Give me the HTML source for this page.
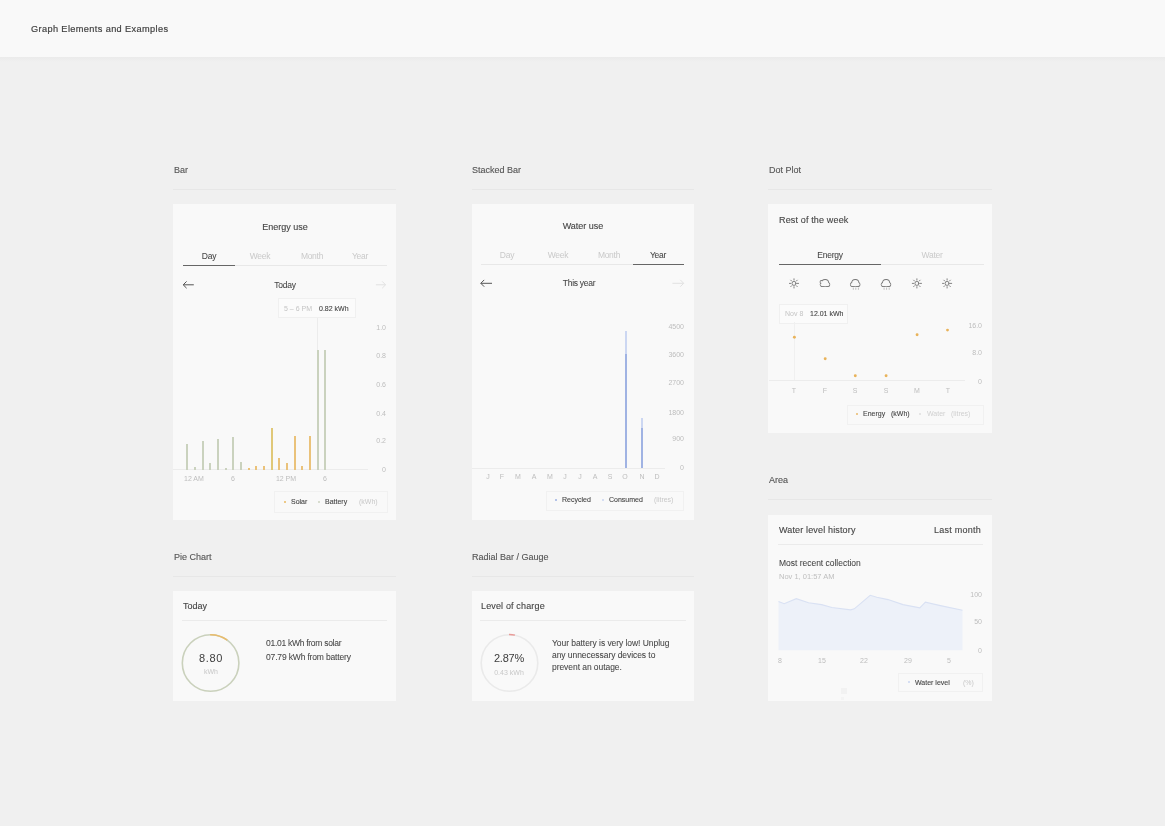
<!DOCTYPE html>
<html><head><meta charset="utf-8"><style>
html,body{margin:0;padding:0;}
body{width:1165px;height:826px;background:#f0f0f0;position:relative;overflow:hidden;font-family:"Liberation Sans", Arial, sans-serif;}
.t{position:absolute;white-space:nowrap;will-change:transform;}
.d{-webkit-text-stroke:0.12px currentColor;}
.d8{-webkit-text-stroke:0.06px currentColor;}
.d7{-webkit-text-stroke:0.1px currentColor;}
.r{position:absolute;}
svg{position:absolute;overflow:visible;}
</style></head><body>
<div class="r" style="left:0px;top:0px;width:1165px;height:56.5px;background:#f9f9f9;"></div>
<div class="r" style="left:0px;top:56.5px;width:1165px;height:5px;background:linear-gradient(#ebebeb,#f0f0f0);"></div>
<div class="t d" style="left:30.60px;top:24.61px;font-size:9.2px;line-height:9.2px;color:#404040;letter-spacing:0.38px;-webkit-text-stroke:0.18px #404040">Graph Elements and Examples</div>
<div class="t d" style="left:173.50px;top:166.28px;font-size:9px;line-height:9px;color:#555;">Bar</div>
<div class="r" style="left:173px;top:189px;width:223px;height:1px;background:#e7e7e7;"></div>
<div class="r" style="left:173px;top:204px;width:223px;height:316px;background:#f9f9f9;"></div>
<div class="t d" style="left:471.80px;top:166.28px;font-size:9px;line-height:9px;color:#555;">Stacked Bar</div>
<div class="r" style="left:471.7px;top:189px;width:222px;height:1px;background:#e7e7e7;"></div>
<div class="r" style="left:471.7px;top:204px;width:222px;height:315.5px;background:#f9f9f9;"></div>
<div class="t d" style="left:769.20px;top:166.28px;font-size:9px;line-height:9px;color:#555;">Dot Plot</div>
<div class="r" style="left:768.3px;top:189px;width:223.7px;height:1px;background:#e7e7e7;"></div>
<div class="r" style="left:768.3px;top:204px;width:223.7px;height:229px;background:#f9f9f9;"></div>
<div class="t d" style="left:769.20px;top:475.68px;font-size:9px;line-height:9px;color:#555;">Area</div>
<div class="r" style="left:768.3px;top:498.5px;width:223.7px;height:1px;background:#e7e7e7;"></div>
<div class="r" style="left:768.3px;top:514.8px;width:223.7px;height:186.7px;background:#f9f9f9;"></div>
<div class="t d" style="left:173.50px;top:553.38px;font-size:9px;line-height:9px;color:#555;">Pie Chart</div>
<div class="r" style="left:173px;top:576px;width:223px;height:1px;background:#e7e7e7;"></div>
<div class="r" style="left:173px;top:591.2px;width:223px;height:110px;background:#f9f9f9;"></div>
<div class="t d" style="left:471.80px;top:553.38px;font-size:9px;line-height:9px;color:#555;">Radial Bar / Gauge</div>
<div class="r" style="left:471.5px;top:576px;width:222.2px;height:1px;background:#e7e7e7;"></div>
<div class="r" style="left:471.5px;top:591.2px;width:222.2px;height:110px;background:#f9f9f9;"></div>
<div class="t d" style="left:134.70px;width:300px;text-align:center;top:223.18px;font-size:9px;line-height:9px;color:#454545;">Energy use</div>
<div class="t d8" style="left:58.70px;width:300px;text-align:center;top:252.10px;font-size:8.5px;line-height:8.5px;color:#454545;;letter-spacing:-0.28px">Day</div>
<div class="t" style="left:110.20px;width:300px;text-align:center;top:252.10px;font-size:8.5px;line-height:8.5px;color:#c9c9c9;;letter-spacing:-0.28px">Week</div>
<div class="t" style="left:161.60px;width:300px;text-align:center;top:252.10px;font-size:8.5px;line-height:8.5px;color:#c9c9c9;;letter-spacing:-0.28px">Month</div>
<div class="t" style="left:210.20px;width:300px;text-align:center;top:252.10px;font-size:8.5px;line-height:8.5px;color:#c9c9c9;;letter-spacing:-0.28px">Year</div>
<div class="r" style="left:183px;top:265px;width:203.5px;height:1px;background:#e8e8e8;"></div>
<div class="r" style="left:183px;top:264.75px;width:51.5px;height:1.5px;background:#666;"></div>
<svg style="left:175px;top:275px" width="220" height="20" viewBox="175 275 220 20"><path d="M186.6 281.4 L183.2 284.8 L186.6 288.2 M183.2 284.8 H193.8" fill="none" stroke="#555" stroke-width="1"/><path d="M382.2 281.4 L385.6 284.8 L382.2 288.2 M385.6 284.8 H375.9" fill="none" stroke="#e2e2e2" stroke-width="1"/></svg>
<div class="t d8" style="left:135.30px;width:300px;text-align:center;top:280.70px;font-size:8.5px;line-height:8.5px;color:#454545;;letter-spacing:-0.28px">Today</div>
<div class="r" style="left:277.9px;top:298.4px;width:76.5px;height:18px;border:1px solid #f0f0f0;background:#fbfbfb"></div>
<div class="t" style="left:284.20px;top:305.37px;font-size:7px;line-height:7px;color:#c4c4c4;">5 &ndash; 6 PM</div>
<div class="t d7" style="left:318.90px;top:305.37px;font-size:7px;line-height:7px;color:#454545;">0.82 kWh</div>
<div class="r" style="left:317px;top:317.5px;width:1px;height:33px;background:#ececec;"></div>
<div class="t" style="left:86.20px;width:300px;text-align:right;top:323.67px;font-size:7px;line-height:7px;color:#bdbdbd;">1.0</div>
<div class="t" style="left:86.20px;width:300px;text-align:right;top:352.37px;font-size:7px;line-height:7px;color:#bdbdbd;">0.8</div>
<div class="t" style="left:86.20px;width:300px;text-align:right;top:381.47px;font-size:7px;line-height:7px;color:#bdbdbd;">0.6</div>
<div class="t" style="left:86.20px;width:300px;text-align:right;top:410.47px;font-size:7px;line-height:7px;color:#bdbdbd;">0.4</div>
<div class="t" style="left:86.20px;width:300px;text-align:right;top:437.07px;font-size:7px;line-height:7px;color:#bdbdbd;">0.2</div>
<div class="t" style="left:86.20px;width:300px;text-align:right;top:465.77px;font-size:7px;line-height:7px;color:#bdbdbd;">0</div>
<div class="r" style="left:173px;top:469.2px;width:194.6px;height:0.8px;background:#ececec;"></div>
<div class="r" style="left:186px;top:444px;width:2px;height:25.6px;background:#cad2be;"></div>
<div class="r" style="left:194px;top:467.3px;width:2px;height:2.3px;background:#cad2be;"></div>
<div class="r" style="left:202px;top:441.3px;width:2px;height:28.3px;background:#cad2be;"></div>
<div class="r" style="left:209px;top:463.3px;width:2px;height:6.3px;background:#cad2be;"></div>
<div class="r" style="left:217px;top:439px;width:2px;height:30.6px;background:#cad2be;"></div>
<div class="r" style="left:225px;top:468px;width:2px;height:1.6px;background:#cad2be;"></div>
<div class="r" style="left:232px;top:437px;width:2px;height:32.6px;background:#cad2be;"></div>
<div class="r" style="left:240px;top:462px;width:2px;height:7.6px;background:#cad2be;"></div>
<div class="r" style="left:248px;top:467.5px;width:2px;height:2.1px;background:#eac27a;"></div>
<div class="r" style="left:255px;top:466px;width:2px;height:3.6px;background:#eac27a;"></div>
<div class="r" style="left:263px;top:466px;width:2px;height:3.6px;background:#eac27a;"></div>
<div class="r" style="left:271px;top:427.7px;width:2px;height:41.9px;background:#e0c878;"></div>
<div class="r" style="left:278px;top:458.3px;width:2px;height:11.3px;background:#eac27a;"></div>
<div class="r" style="left:286px;top:463.3px;width:2px;height:6.3px;background:#eac27a;"></div>
<div class="r" style="left:294px;top:435.5px;width:2px;height:34.1px;background:#eac27a;"></div>
<div class="r" style="left:301px;top:466px;width:2px;height:3.6px;background:#eac27a;"></div>
<div class="r" style="left:309px;top:436.2px;width:2px;height:33.4px;background:#eac27a;"></div>
<div class="r" style="left:317px;top:350.2px;width:2px;height:119.4px;background:#cad2be;"></div>
<div class="r" style="left:324px;top:350.2px;width:2px;height:119.4px;background:#cad2be;"></div>
<div class="t" style="left:183.80px;top:475.17px;font-size:7px;line-height:7px;color:#bdbdbd;">12 AM</div>
<div class="t" style="left:83.20px;width:300px;text-align:center;top:475.17px;font-size:7px;line-height:7px;color:#bdbdbd;">6</div>
<div class="t" style="left:136.00px;width:300px;text-align:center;top:475.17px;font-size:7px;line-height:7px;color:#bdbdbd;">12 PM</div>
<div class="t" style="left:175.20px;width:300px;text-align:center;top:475.17px;font-size:7px;line-height:7px;color:#bdbdbd;">6</div>
<div class="r" style="left:274px;top:490.5px;width:111.5px;height:20.5px;border:1px solid #f1f1f1"></div>
<div class="r" style="left:284.2px;top:500.7px;width:2px;height:2px;border-radius:1px;background:#e9b860"></div>
<div class="r" style="left:317.9px;top:500.7px;width:2px;height:2px;border-radius:1px;background:#cdd3c0"></div>
<div class="t d7" style="left:291.40px;top:498.07px;font-size:7px;line-height:7px;color:#454545;">Solar</div>
<div class="t d7" style="left:325.10px;top:498.07px;font-size:7px;line-height:7px;color:#454545;">Battery</div>
<div class="t" style="left:358.80px;top:498.07px;font-size:7px;line-height:7px;color:#c8c8c8;">(kWh)</div>
<div class="t d" style="left:432.50px;width:300px;text-align:center;top:222.48px;font-size:9px;line-height:9px;color:#454545;">Water use</div>
<div class="t" style="left:356.50px;width:300px;text-align:center;top:250.70px;font-size:8.5px;line-height:8.5px;color:#c9c9c9;;letter-spacing:-0.28px">Day</div>
<div class="t" style="left:407.80px;width:300px;text-align:center;top:250.70px;font-size:8.5px;line-height:8.5px;color:#c9c9c9;;letter-spacing:-0.28px">Week</div>
<div class="t" style="left:459.30px;width:300px;text-align:center;top:250.70px;font-size:8.5px;line-height:8.5px;color:#c9c9c9;;letter-spacing:-0.28px">Month</div>
<div class="t d8" style="left:507.90px;width:300px;text-align:center;top:250.70px;font-size:8.5px;line-height:8.5px;color:#454545;;letter-spacing:-0.28px">Year</div>
<div class="r" style="left:480.5px;top:264px;width:203.5px;height:1px;background:#e8e8e8;"></div>
<div class="r" style="left:632.7px;top:263.75px;width:51.3px;height:1.5px;background:#666;"></div>
<svg style="left:472px;top:274px" width="222" height="20" viewBox="472 274 222 20"><path d="M484.2 279.9 L480.8 283.3 L484.2 286.7 M480.8 283.3 H492" fill="none" stroke="#555" stroke-width="1"/><path d="M680.3 279.9 L683.7 283.3 L680.3 286.7 M683.7 283.3 H672.4" fill="none" stroke="#e2e2e2" stroke-width="1"/></svg>
<div class="t d8" style="left:428.70px;width:300px;text-align:center;top:278.90px;font-size:8.5px;line-height:8.5px;color:#454545;;letter-spacing:-0.28px">This year</div>
<div class="t" style="left:384.00px;width:300px;text-align:right;top:322.57px;font-size:7px;line-height:7px;color:#bdbdbd;">4500</div>
<div class="t" style="left:384.00px;width:300px;text-align:right;top:351.17px;font-size:7px;line-height:7px;color:#bdbdbd;">3600</div>
<div class="t" style="left:384.00px;width:300px;text-align:right;top:379.47px;font-size:7px;line-height:7px;color:#bdbdbd;">2700</div>
<div class="t" style="left:384.00px;width:300px;text-align:right;top:409.07px;font-size:7px;line-height:7px;color:#bdbdbd;">1800</div>
<div class="t" style="left:384.00px;width:300px;text-align:right;top:435.47px;font-size:7px;line-height:7px;color:#bdbdbd;">900</div>
<div class="t" style="left:384.00px;width:300px;text-align:right;top:464.37px;font-size:7px;line-height:7px;color:#bdbdbd;">0</div>
<div class="r" style="left:472px;top:467.6px;width:192.7px;height:0.8px;background:#ececec;"></div>
<div class="r" style="left:625px;top:331px;width:1.6px;height:23px;background:#ccd7f2;"></div>
<div class="r" style="left:625px;top:354px;width:1.6px;height:114px;background:#a0b3e3;"></div>
<div class="r" style="left:641px;top:417.9px;width:1.6px;height:10px;background:#ccd7f2;"></div>
<div class="r" style="left:641px;top:427.9px;width:1.6px;height:40px;background:#a0b3e3;"></div>
<div class="t" style="left:338.20px;width:300px;text-align:center;top:473.07px;font-size:7px;line-height:7px;color:#bdbdbd;">J</div>
<div class="t" style="left:352.30px;width:300px;text-align:center;top:473.07px;font-size:7px;line-height:7px;color:#bdbdbd;">F</div>
<div class="t" style="left:367.90px;width:300px;text-align:center;top:473.07px;font-size:7px;line-height:7px;color:#bdbdbd;">M</div>
<div class="t" style="left:384.00px;width:300px;text-align:center;top:473.07px;font-size:7px;line-height:7px;color:#bdbdbd;">A</div>
<div class="t" style="left:399.70px;width:300px;text-align:center;top:473.07px;font-size:7px;line-height:7px;color:#bdbdbd;">M</div>
<div class="t" style="left:414.90px;width:300px;text-align:center;top:473.07px;font-size:7px;line-height:7px;color:#bdbdbd;">J</div>
<div class="t" style="left:429.60px;width:300px;text-align:center;top:473.07px;font-size:7px;line-height:7px;color:#bdbdbd;">J</div>
<div class="t" style="left:444.50px;width:300px;text-align:center;top:473.07px;font-size:7px;line-height:7px;color:#bdbdbd;">A</div>
<div class="t" style="left:459.80px;width:300px;text-align:center;top:473.07px;font-size:7px;line-height:7px;color:#bdbdbd;">S</div>
<div class="t" style="left:475.40px;width:300px;text-align:center;top:473.07px;font-size:7px;line-height:7px;color:#bdbdbd;">O</div>
<div class="t" style="left:491.50px;width:300px;text-align:center;top:473.07px;font-size:7px;line-height:7px;color:#bdbdbd;">N</div>
<div class="t" style="left:506.60px;width:300px;text-align:center;top:473.07px;font-size:7px;line-height:7px;color:#bdbdbd;">D</div>
<div class="r" style="left:545.7px;top:490.8px;width:136.7px;height:18.7px;border:1px solid #f1f1f1"></div>
<div class="r" style="left:554.8px;top:498.9px;width:2px;height:2px;border-radius:1px;background:#9cb0e2"></div>
<div class="r" style="left:602.2px;top:498.9px;width:2px;height:2px;border-radius:1px;background:#c9d5f1"></div>
<div class="t d7" style="left:562.20px;top:496.07px;font-size:7px;line-height:7px;color:#454545;">Recycled</div>
<div class="t d7" style="left:608.80px;top:496.07px;font-size:7px;line-height:7px;color:#454545;">Consumed</div>
<div class="t" style="left:654.00px;top:496.07px;font-size:7px;line-height:7px;color:#c8c8c8;">(litres)</div>
<div class="t d" style="left:778.90px;top:215.68px;font-size:9px;line-height:9px;color:#454545;letter-spacing:0.15px">Rest of the week</div>
<div class="t d8" style="left:679.50px;width:300px;text-align:center;top:251.10px;font-size:8.5px;line-height:8.5px;color:#454545;;letter-spacing:-0.28px">Energy</div>
<div class="t" style="left:781.80px;width:300px;text-align:center;top:251.10px;font-size:8.5px;line-height:8.5px;color:#c9c9c9;;letter-spacing:-0.28px">Water</div>
<div class="r" style="left:778.5px;top:263.8px;width:205px;height:1px;background:#e8e8e8;"></div>
<div class="r" style="left:778.5px;top:263.5px;width:102.4px;height:1.5px;background:#666;"></div>
<svg style="left:780px;top:274px" width="180" height="20" viewBox="780 274 180 20"><circle cx="794" cy="283.4" r="2" fill="none" stroke="#6e6e6e" stroke-width="0.85" stroke-linecap="round" stroke-linejoin="round"/><path d="M797.30 283.40L798.60 283.40M796.33 285.73L797.25 286.65M794.00 286.70L794.00 288.00M791.67 285.73L790.75 286.65M790.70 283.40L789.40 283.40M791.67 281.07L790.75 280.15M794.00 280.10L794.00 278.80M796.33 281.07L797.25 280.15" fill="none" stroke="#6e6e6e" stroke-width="0.85" stroke-linecap="round" stroke-linejoin="round"/><circle cx="825.10" cy="283.10" r="3.20" fill="#777" stroke="#777" stroke-width="1.6"/><circle cx="822.00" cy="284.60" r="1.50" fill="#777" stroke="#777" stroke-width="1.6"/><circle cx="827.70" cy="284.40" r="1.70" fill="#777" stroke="#777" stroke-width="1.6"/><circle cx="821.50" cy="282.00" r="1.10" fill="#777" stroke="#777" stroke-width="1.6"/><rect x="822.00" y="283.40" width="5.7" height="2.70" fill="#777" stroke="#777" stroke-width="1.6"/><circle cx="825.10" cy="283.10" r="3.20" fill="#f9f9f9" stroke="none"/><circle cx="822.00" cy="284.60" r="1.50" fill="#f9f9f9" stroke="none"/><circle cx="827.70" cy="284.40" r="1.70" fill="#f9f9f9" stroke="none"/><circle cx="821.50" cy="282.00" r="1.10" fill="#f9f9f9" stroke="none"/><rect x="822.00" y="283.40" width="5.7" height="2.70" fill="#f9f9f9" stroke="none"/><circle cx="855.30" cy="283.10" r="3.20" fill="#777" stroke="#777" stroke-width="1.6"/><circle cx="852.20" cy="284.60" r="1.50" fill="#777" stroke="#777" stroke-width="1.6"/><circle cx="857.90" cy="284.40" r="1.70" fill="#777" stroke="#777" stroke-width="1.6"/><rect x="852.20" y="283.40" width="5.7" height="2.70" fill="#777" stroke="#777" stroke-width="1.6"/><circle cx="855.30" cy="283.10" r="3.20" fill="#f9f9f9" stroke="none"/><circle cx="852.20" cy="284.60" r="1.50" fill="#f9f9f9" stroke="none"/><circle cx="857.90" cy="284.40" r="1.70" fill="#f9f9f9" stroke="none"/><rect x="852.20" y="283.40" width="5.7" height="2.70" fill="#f9f9f9" stroke="none"/><path d="M853.30 287.60v2.2M855.80 287.60v2.2M858.40 287.60v2.2" fill="none" stroke="#aaa" stroke-width="0.7"/><circle cx="886.10" cy="283.10" r="3.20" fill="#777" stroke="#777" stroke-width="1.6"/><circle cx="883.00" cy="284.60" r="1.50" fill="#777" stroke="#777" stroke-width="1.6"/><circle cx="888.70" cy="284.40" r="1.70" fill="#777" stroke="#777" stroke-width="1.6"/><rect x="883.00" y="283.40" width="5.7" height="2.70" fill="#777" stroke="#777" stroke-width="1.6"/><circle cx="886.10" cy="283.10" r="3.20" fill="#f9f9f9" stroke="none"/><circle cx="883.00" cy="284.60" r="1.50" fill="#f9f9f9" stroke="none"/><circle cx="888.70" cy="284.40" r="1.70" fill="#f9f9f9" stroke="none"/><rect x="883.00" y="283.40" width="5.7" height="2.70" fill="#f9f9f9" stroke="none"/><path d="M884.10 287.60v2.2M886.60 287.60v2.2M889.20 287.60v2.2" fill="none" stroke="#aaa" stroke-width="0.7"/><circle cx="916.9" cy="283.4" r="2" fill="none" stroke="#6e6e6e" stroke-width="0.85" stroke-linecap="round" stroke-linejoin="round"/><path d="M920.20 283.40L921.50 283.40M919.23 285.73L920.15 286.65M916.90 286.70L916.90 288.00M914.57 285.73L913.65 286.65M913.60 283.40L912.30 283.40M914.57 281.07L913.65 280.15M916.90 280.10L916.90 278.80M919.23 281.07L920.15 280.15" fill="none" stroke="#6e6e6e" stroke-width="0.85" stroke-linecap="round" stroke-linejoin="round"/><circle cx="947.1" cy="283.4" r="2" fill="none" stroke="#6e6e6e" stroke-width="0.85" stroke-linecap="round" stroke-linejoin="round"/><path d="M950.40 283.40L951.70 283.40M949.43 285.73L950.35 286.65M947.10 286.70L947.10 288.00M944.77 285.73L943.85 286.65M943.80 283.40L942.50 283.40M944.77 281.07L943.85 280.15M947.10 280.10L947.10 278.80M949.43 281.07L950.35 280.15" fill="none" stroke="#6e6e6e" stroke-width="0.85" stroke-linecap="round" stroke-linejoin="round"/></svg>
<div class="r" style="left:779.1px;top:304.1px;width:67.4px;height:17.5px;border:1px solid #f0f0f0;background:#fbfbfb"></div>
<div class="t" style="left:785.10px;top:310.47px;font-size:7px;line-height:7px;color:#c4c4c4;">Nov 8</div>
<div class="t d7" style="left:809.70px;top:310.47px;font-size:7px;line-height:7px;color:#454545;">12.01 kWh</div>
<div class="r" style="left:793.7px;top:322px;width:1.2px;height:58.6px;background:#f0f0f0;"></div>
<div class="r" style="left:769px;top:380.3px;width:196px;height:0.8px;background:#ececec;"></div>
<svg style="left:780px;top:320px" width="180" height="65" viewBox="780 320 180 65"><circle cx="794.4" cy="337.3" r="1.45" fill="#e9b35a"/><circle cx="825.2" cy="358.7" r="1.45" fill="#e9b35a"/><circle cx="855.3" cy="375.7" r="1.45" fill="#e9b35a"/><circle cx="886.1" cy="375.7" r="1.45" fill="#e9b35a"/><circle cx="917.1" cy="334.7" r="1.45" fill="#e9b35a"/><circle cx="947.5" cy="330.1" r="1.45" fill="#e9b35a"/></svg>
<div class="t" style="left:681.80px;width:300px;text-align:right;top:322.37px;font-size:7px;line-height:7px;color:#bdbdbd;">16.0</div>
<div class="t" style="left:681.80px;width:300px;text-align:right;top:349.17px;font-size:7px;line-height:7px;color:#bdbdbd;">8.0</div>
<div class="t" style="left:681.80px;width:300px;text-align:right;top:377.77px;font-size:7px;line-height:7px;color:#bdbdbd;">0</div>
<div class="t" style="left:644.40px;width:300px;text-align:center;top:387.07px;font-size:7px;line-height:7px;color:#bdbdbd;">T</div>
<div class="t" style="left:675.20px;width:300px;text-align:center;top:387.07px;font-size:7px;line-height:7px;color:#bdbdbd;">F</div>
<div class="t" style="left:705.30px;width:300px;text-align:center;top:387.07px;font-size:7px;line-height:7px;color:#bdbdbd;">S</div>
<div class="t" style="left:736.10px;width:300px;text-align:center;top:387.07px;font-size:7px;line-height:7px;color:#bdbdbd;">S</div>
<div class="t" style="left:767.10px;width:300px;text-align:center;top:387.07px;font-size:7px;line-height:7px;color:#bdbdbd;">M</div>
<div class="t" style="left:797.50px;width:300px;text-align:center;top:387.07px;font-size:7px;line-height:7px;color:#bdbdbd;">T</div>
<div class="r" style="left:846.7px;top:405px;width:135.5px;height:17.8px;border:1px solid #f1f1f1"></div>
<div class="r" style="left:855.8px;top:413px;width:2px;height:2px;border-radius:1px;background:#e8b86a"></div>
<div class="r" style="left:919.3px;top:413px;width:2px;height:2px;border-radius:1px;background:#dedede"></div>
<div class="t d7" style="left:863.20px;top:410.17px;font-size:7px;line-height:7px;color:#454545;">Energy</div>
<div class="t d7" style="left:891.10px;top:410.17px;font-size:7px;line-height:7px;color:#454545;">(kWh)</div>
<div class="t" style="left:927.00px;top:410.17px;font-size:7px;line-height:7px;color:#d0d0d0;">Water</div>
<div class="t" style="left:950.60px;top:410.17px;font-size:7px;line-height:7px;color:#d0d0d0;">(litres)</div>
<div class="t d" style="left:778.50px;top:525.98px;font-size:9px;line-height:9px;color:#454545;letter-spacing:0.15px">Water level history</div>
<div class="t d" style="left:681.20px;width:300px;text-align:right;top:525.98px;font-size:9px;line-height:9px;color:#454545;letter-spacing:0.25px">Last month</div>
<div class="r" style="left:778px;top:544px;width:205px;height:0.8px;background:#ebebeb;"></div>
<div class="t d8" style="left:778.50px;top:558.50px;font-size:8.5px;line-height:8.5px;color:#454545;;letter-spacing:-0.02px">Most recent collection</div>
<div class="t" style="left:778.50px;top:572.95px;font-size:7.5px;line-height:7.5px;color:#bebebe;">Nov 1, 01:57 AM</div>
<svg style="left:770px;top:590px" width="200" height="65" viewBox="770 590 200 65"><polygon points="778.5,601.5 784.2,603.7 796.3,598.7 808.5,602.8 821.6,604.6 831.9,607.5 850.6,609.9 854.3,608.8 870.2,595.3 876.8,597.2 888,599.6 903,604.6 919.8,607.8 925.4,602.2 940.4,605.6 962.5,610.3 962.5,650.2 778.5,650.2" fill="#edf1f9"/><path d="M778.5,601.5 L784.2,603.7 L796.3,598.7 L808.5,602.8 L821.6,604.6 L831.9,607.5 L850.6,609.9 L854.3,608.8 L870.2,595.3 L876.8,597.2 L888,599.6 L903,604.6 L919.8,607.8 L925.4,602.2 L940.4,605.6 L962.5,610.3" fill="none" stroke="#d9e1f3" stroke-width="1.1"/></svg>
<div class="t" style="left:681.70px;width:300px;text-align:right;top:590.57px;font-size:7px;line-height:7px;color:#bdbdbd;">100</div>
<div class="t" style="left:681.70px;width:300px;text-align:right;top:618.07px;font-size:7px;line-height:7px;color:#bdbdbd;">50</div>
<div class="t" style="left:681.70px;width:300px;text-align:right;top:647.07px;font-size:7px;line-height:7px;color:#bdbdbd;">0</div>
<div class="t" style="left:629.90px;width:300px;text-align:center;top:657.27px;font-size:7px;line-height:7px;color:#bdbdbd;">8</div>
<div class="t" style="left:671.60px;width:300px;text-align:center;top:657.27px;font-size:7px;line-height:7px;color:#bdbdbd;">15</div>
<div class="t" style="left:714.00px;width:300px;text-align:center;top:657.27px;font-size:7px;line-height:7px;color:#bdbdbd;">22</div>
<div class="t" style="left:757.70px;width:300px;text-align:center;top:657.27px;font-size:7px;line-height:7px;color:#bdbdbd;">29</div>
<div class="t" style="left:799.40px;width:300px;text-align:center;top:657.27px;font-size:7px;line-height:7px;color:#bdbdbd;">5</div>
<div class="r" style="left:898.1px;top:672.8px;width:83.3px;height:17.7px;border:1px solid #f1f1f1"></div>
<div class="r" style="left:907.8px;top:681.3px;width:2px;height:2px;border-radius:1px;background:#c9d5f1"></div>
<div class="t d7" style="left:915.30px;top:679.37px;font-size:7px;line-height:7px;color:#454545;">Water level</div>
<div class="t" style="left:962.70px;top:679.37px;font-size:7px;line-height:7px;color:#c8c8c8;">(%)</div>
<div class="r" style="left:840.5px;top:688.2px;width:6px;height:5.5px;background:#f2f2f2;"></div>
<div class="r" style="left:840.5px;top:697.3px;width:3.5px;height:2.5px;background:#f4f4f4;"></div>
<div class="t d" style="left:182.60px;top:602.48px;font-size:9px;line-height:9px;color:#454545;">Today</div>
<div class="r" style="left:182px;top:620px;width:205px;height:0.8px;background:#ebebeb;"></div>
<svg style="left:175px;top:630px" width="70" height="66" viewBox="175 630 70 66"><circle cx="210.6" cy="663" r="28.3" fill="none" stroke="#cad1bc" stroke-width="1.6"/><path d="M210.11 634.70 A28.3 28.3 0 0 1 227.23 640.10" fill="none" stroke="#e9bc6c" stroke-width="1.6"/></svg>
<div class="t" style="left:60.60px;width:300px;text-align:center;top:653.19px;font-size:11px;line-height:11px;color:#3c3c3c;letter-spacing:0.6px;-webkit-text-stroke:0">8.80</div>
<div class="t" style="left:60.90px;width:300px;text-align:center;top:667.97px;font-size:7px;line-height:7px;color:#c8c8c8;">kWh</div>
<div class="t d8" style="left:265.70px;top:639.20px;font-size:8.5px;line-height:8.5px;color:#454545;;letter-spacing:-0.28px">01.01 kWh from solar</div>
<div class="t d8" style="left:265.70px;top:653.40px;font-size:8.5px;line-height:8.5px;color:#454545;;letter-spacing:-0.16px">07.79 kWh from battery</div>
<div class="t d" style="left:480.60px;top:602.48px;font-size:9px;line-height:9px;color:#454545;letter-spacing:0.15px">Level of charge</div>
<div class="r" style="left:480px;top:620px;width:206px;height:0.8px;background:#ebebeb;"></div>
<svg style="left:475px;top:630px" width="70" height="66" viewBox="475 630 70 66"><circle cx="509.5" cy="663" r="28.3" fill="none" stroke="#eaeaea" stroke-width="1.6"/><path d="M509.00 634.60 A28.4 28.4 0 0 1 514.92 635.12" fill="none" stroke="#e99b98" stroke-width="1.5"/></svg>
<div class="t" style="left:359.10px;width:300px;text-align:center;top:653.19px;font-size:11px;line-height:11px;color:#3c3c3c;letter-spacing:-0.2px;-webkit-text-stroke:0">2.87%</div>
<div class="t" style="left:358.90px;width:300px;text-align:center;top:669.17px;font-size:7px;line-height:7px;color:#c8c8c8;">0.43 kWh</div>
<div class="t d8" style="left:552.00px;top:639.30px;font-size:8.5px;line-height:8.5px;color:#454545;;letter-spacing:-0.06px">Your battery is very low! Unplug</div>
<div class="t d8" style="left:552.00px;top:651.20px;font-size:8.5px;line-height:8.5px;color:#454545;;letter-spacing:-0.06px">any unnecessary devices to</div>
<div class="t d8" style="left:552.00px;top:662.90px;font-size:8.5px;line-height:8.5px;color:#454545;;letter-spacing:-0.06px">prevent an outage.</div>
</body></html>
